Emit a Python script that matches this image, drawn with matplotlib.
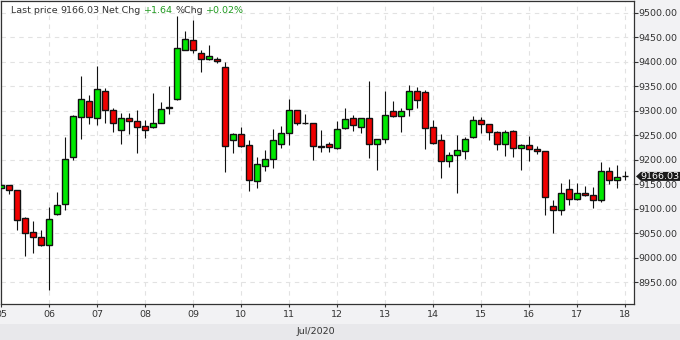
import matplotlib
matplotlib.use("Agg")
import matplotlib.pyplot as plt
import matplotlib.dates as mdates
import pandas as pd
import numpy as np
from matplotlib.patches import Rectangle, Polygon

# ---------------- data (4-hour candles, from 05 Jul 2020 00:00) ----------------
start_time = "2020-07-05 00:00"
opens = [9142, 9148, 9138, 9081, 9052, 9042, 9026, 9089, 9109, 9206,
         9287, 9319, 9285, 9340, 9302, 9260, 9285, 9280, 9268, 9266,
         9276, 9305, 9323, 9425, 9444, 9417, 9405, 9406, 9389, 9240,
         9252, 9230, 9156, 9187, 9201, 9232, 9254, 9301, 9274, 9274,
         9227, 9232, 9225, 9264, 9285, 9266, 9285, 9232, 9242, 9299,
         9289, 9303, 9340, 9338, 9266, 9240, 9197, 9209, 9217, 9246,
         9281, 9272, 9256, 9232, 9258, 9225, 9230, 9221, 9217, 9105,
         9097, 9140, 9119, 9132, 9128, 9117, 9177, 9158, 9166]
highs = [9155, 9149, 9139, 9084, 9074, 9057, 9104, 9134, 9246, 9291,
         9371, 9332, 9392, 9346, 9306, 9296, 9295, 9302, 9281, 9336,
         9317, 9350, 9493, 9462, 9485, 9423, 9435, 9409, 9400, 9255,
         9267, 9240, 9205, 9220, 9263, 9269, 9325, 9302, 9293, 9275,
         9261, 9237, 9279, 9306, 9291, 9285, 9361, 9242, 9340, 9320,
         9306, 9353, 9348, 9342, 9281, 9253, 9216, 9251, 9246, 9289,
         9287, 9273, 9258, 9260, 9260, 9232, 9249, 9228, 9218, 9117,
         9153, 9160, 9152, 9147, 9144, 9195, 9185, 9189, 9178]
lows = [9124, 9131, 9057, 9004, 9010, 9025, 8935, 9088, 9098, 9200,
        9243, 9272, 9270, 9276, 9257, 9233, 9253, 9214, 9245, 9265,
        9274, 9293, 9322, 9423, 9418, 9380, 9403, 9398, 9176, 9214,
        9227, 9137, 9143, 9178, 9184, 9225, 9231, 9270, 9272, 9200,
        9216, 9216, 9221, 9262, 9259, 9255, 9204, 9180, 9235, 9288,
        9257, 9290, 9306, 9221, 9233, 9163, 9186, 9132, 9201, 9245,
        9254, 9240, 9219, 9207, 9205, 9180, 9197, 9211, 9088, 9051,
        9087, 9107, 9118, 9127, 9102, 9114, 9150, 9142, 9159]
closes = [9148, 9138, 9078, 9051, 9043, 9026, 9079, 9107, 9201, 9289,
          9325, 9287, 9344, 9301, 9274, 9285, 9279, 9266, 9260, 9276,
          9303, 9307, 9429, 9446, 9425, 9405, 9411, 9402, 9229, 9252,
          9229, 9158, 9191, 9201, 9240, 9254, 9301, 9274, 9276, 9228,
          9229, 9226, 9262, 9283, 9270, 9285, 9232, 9242, 9291, 9289,
          9299, 9340, 9321, 9265, 9234, 9197, 9209, 9219, 9242, 9281,
          9272, 9256, 9232, 9256, 9223, 9230, 9221, 9217, 9125, 9097,
          9132, 9119, 9132, 9128, 9117, 9177, 9158, 9164, 9166.03]
y_ticks = [8950, 9000, 9050, 9100, 9150, 9200, 9250, 9300, 9350, 9400, 9450, 9500]
net_chg = 1.64
pct_chg = 0.02

# ---------------- style ----------------
W, H = 680, 340
GREEN = "#00e800"
RED = "#f00000"
TXT = "#333333"
TGREEN = "#1e9a1e"
FS = 6.8

times = pd.date_range(start_time, periods=len(opens), freq="4h")
xs = mdates.date2num(times)

fig = plt.figure(figsize=(W / 100, H / 100), dpi=100, facecolor="#f2f2f4")
fig.patches.append(Rectangle((0, 0), 1, 16 / H, transform=fig.transFigure,
                             facecolor="#e8e8eb", edgecolor="none", zorder=0))
ax = fig.add_axes([1 / W, (H - 304.3) / H, 633 / W, 303.3 / H])
ax.set_facecolor("white")

x0 = mdates.date2num(pd.Timestamp(times[0].normalize()))
ax.set_xlim(x0, x0 + 633 / 48)
ax.set_ylim(8905, 9524)

bw = 0.8 / 6
ax.vlines(xs, lows, highs, color="#111111", lw=0.8, zorder=2)
for x, o, c in zip(xs, opens, closes):
    up = c >= o
    lo = min(o, c)
    h = max(abs(c - o), 0.3)
    ax.add_patch(Rectangle((x - bw / 2, lo), bw, h,
                           facecolor=GREEN if up else RED,
                           edgecolor="#111111", lw=1.0, zorder=3))

# axes
ax.yaxis.tick_right()
ax.set_yticks(y_ticks)
ax.set_yticklabels([f"{v:.2f}" for v in y_ticks])
ax.xaxis.set_major_locator(mdates.DayLocator())
ax.xaxis.set_major_formatter(mdates.DateFormatter("%d"))
ax.tick_params(axis="y", direction="out", length=2.7, width=0.8, color=TXT,
               labelsize=FS, labelcolor=TXT, pad=0.3)
ax.tick_params(axis="x", direction="out", length=2.5, width=0.8, color=TXT,
               labelsize=FS, labelcolor=TXT, pad=1.8)
for s in ax.spines.values():
    s.set_color("#333333")
    s.set_linewidth(0.9)
ax.grid(True, ls=(0, (4, 4)), color="#e2e2e2", lw=0.8)
ax.set_axisbelow(True)

fig.text(315.5 / W, (H - 331.7) / H, times[0].strftime("%b/%Y"),
         ha="center", va="center", fontsize=FS, color=TXT)

# title line made of pieces
fig.canvas.draw()
rend = fig.canvas.get_renderer()

def twidth(s):
    t = fig.text(0, 0, s, fontsize=FS)
    w = t.get_window_extent(rend).width
    t.remove()
    return w

space = twidth("x x") - twidth("xx")
pieces = [("Last price", TXT), (f"{closes[-1]:.2f}", TXT), ("Net Chg", TXT),
          (f"+{net_chg:.2f}", TGREEN), ("%Chg", TXT), (f"+{pct_chg:.2f}%", TGREEN)]
xp = 10.7
ty = (H - 10.7) / H
for s, col in pieces:
    fig.text(xp / W, ty, s, fontsize=FS, color=col, va="center", ha="left")
    xp += twidth(s) + space

# last price marker
ypix = ax.transData.transform((x0, closes[-1]))[1]
fy = ypix / H
hh = 4.5 / H
poly = Polygon([(636 / W, fy), (641 / W, fy + hh), (680 / W, fy + hh),
                (680 / W, fy - hh), (641 / W, fy - hh)], closed=True,
               transform=fig.transFigure, facecolor="#1a1a1a", edgecolor="none",
               zorder=10)
fig.add_artist(poly)
fig.text(640 / W, fy, f"{closes[-1]:.2f}", fontsize=FS, color="white",
         va="center", ha="left", zorder=11)

fig.savefig("out.png", dpi=100, facecolor=fig.get_facecolor())
